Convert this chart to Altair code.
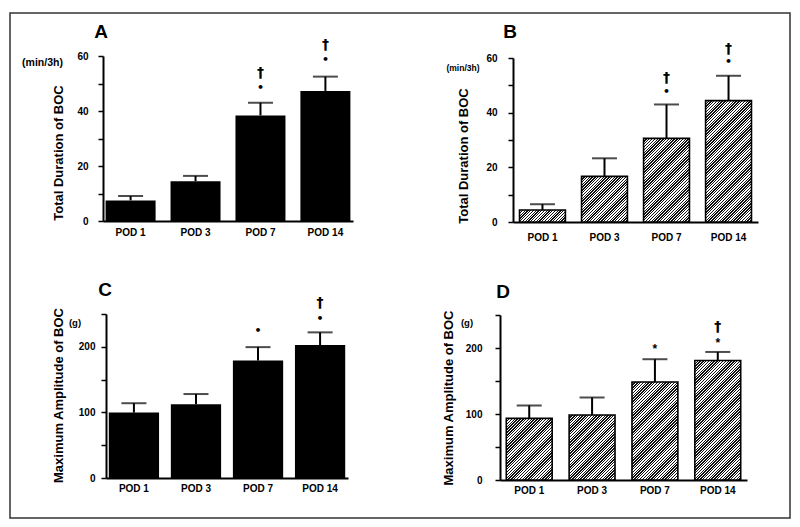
import altair as alt
import pandas as pd

pods = ["POD 1", "POD 3", "POD 7", "POD 14"]

# Panel A: Total Duration of BOC (min/3h), solid bars
a_mean = [7.5, 14.5, 38.4, 47.3]
a_se = [1.6, 1.9, 4.6, 5.2]
a_ann_pod = ["POD 7", "POD 7", "POD 14", "POD 14"]
a_ann_sym = ["†", "•", "†", "•"]
a_ann_y = [53.8, 48.4, 64.0, 58.5]

# Panel B: Total Duration of BOC (min/3h), hatched bars
b_mean = [4.4, 16.7, 30.6, 44.4]
b_se = [2.1, 6.6, 12.4, 9.1]
b_ann_pod = ["POD 7", "POD 7", "POD 14", "POD 14"]
b_ann_sym = ["†", "•", "†", "•"]
b_ann_y = [52.7, 47.6, 63.3, 58.5]

# Panel C: Maximum Amplitude of BOC (g), solid bars
c_mean = [99.7, 112.5, 179.0, 202.6]
c_se = [14.3, 15.5, 20.5, 19.4]
c_ann_pod = ["POD 7", "POD 14", "POD 14"]
c_ann_sym = ["•", "†", "•"]
c_ann_y = [224.0, 267.0, 243.0]

# Panel D: Maximum Amplitude of BOC (g), hatched bars
d_mean = [93.4, 98.5, 148.5, 181.0]
d_se = [19.6, 26.5, 34.5, 13.0]
d_ann_pod = ["POD 7", "POD 14", "POD 14"]
d_ann_sym = ["*", "†", "*"]
d_ann_y = [203.0, 232.0, 212.0]

FONT = "Liberation Sans"
SYMFONT = "DejaVu Sans"
W_TOTAL, H_TOTAL = 784, 511
one = pd.DataFrame({"k": [0]})


def hatch(w, h, period=2.8, frac=0.5):
    s = w + h
    n = max(1, round(s / period))
    k = s / (w * w + h * h)
    stops = []
    for i in range(n):
        a, b, c = i / n, (i + frac) / n, (i + 1) / n
        stops += [
            alt.GradientStop(offset=a, color="#111"),
            alt.GradientStop(offset=b, color="#111"),
            alt.GradientStop(offset=b, color="#fff"),
            alt.GradientStop(offset=c, color="#fff"),
        ]
    return alt.LinearGradient(gradient="linear", stops=stops, x1=0, y1=0, x2=w * k, y2=h * k)


def panel(mean, se, ann_pod, ann_sym, ann_y, xr, pin, pout, yr, ymax, yvals, lab_every,
          title, title_x, title_y, lab_pad, xlab_pad, hatched):
    df = pd.DataFrame({"pod": pods, "mean": mean, "top": [m + s for m, s in zip(mean, se)]})
    ann = pd.DataFrame({"pod": ann_pod, "sym": ann_sym, "val": ann_y})

    xaxis = alt.Axis(orient="bottom", offset=yr[0] - H_TOTAL, title=None, ticks=False,
                     domainColor="black", domainWidth=2, labelAngle=0, labelFont=FONT,
                     labelFontWeight="bold", labelFontSize=10, labelColor="black",
                     labelPadding=xlab_pad, grid=False)
    x = alt.X("pod:N", sort=pods,
              scale=alt.Scale(domain=pods, range=xr, paddingInner=pin, paddingOuter=pout),
              axis=xaxis)
    yaxis = alt.Axis(orient="left", offset=-xr[0], values=yvals,
                     labelExpr=f"datum.value % {lab_every} == 0 ? datum.label : ''",
                     title=title, titleX=title_x, titleY=title_y, titleAngle=270,
                     titleAlign="center", titleBaseline="middle", titleFont=FONT,
                     titleFontWeight="bold", titleFontSize=13, titleColor="black",
                     domainColor="black", domainWidth=2, tickColor="black", tickWidth=1.5,
                     tickSize=5, labelFont=FONT, labelFontWeight="bold", labelFontSize=10,
                     labelColor="black", labelPadding=lab_pad, grid=False)
    yscale = alt.Scale(domain=[0, ymax], range=yr, nice=False, zero=True)

    def Y(field):
        return alt.Y(field, scale=yscale, axis=yaxis)

    base = alt.Chart(df)
    layers = []
    if hatched:
        L = xr[1] - xr[0]
        step = L / (len(pods) - pin + 2 * pout)
        bw = step * (1 - pin)
        ppu = (yr[0] - yr[1]) / ymax
        for i, p in enumerate(pods):
            layers.append(
                base.transform_filter(alt.datum.pod == p)
                .mark_bar(fill=hatch(bw, mean[i] * ppu), stroke="black", strokeWidth=1.6)
                .encode(x=x, y=Y("mean:Q"))
            )
    else:
        layers.append(base.mark_bar(color="black").encode(x=x, y=Y("mean:Q")))
    layers.append(base.mark_rule(color="black", strokeWidth=2).encode(x=x, y=Y("mean:Q"), y2="top:Q"))
    layers.append(base.mark_tick(color="black", thickness=2, size=25, orient="horizontal")
                  .encode(x=x, y=Y("top:Q")))
    at = alt.Chart(ann)
    layers.append(at.transform_filter(alt.datum.sym == "†")
                  .mark_text(font=SYMFONT, fontWeight="bold", fontSize=14, baseline="middle", color="black")
                  .encode(x=x, y=Y("val:Q"), text="sym:N"))
    layers.append(at.transform_filter(alt.datum.sym == "•")
                  .mark_text(font=SYMFONT, fontWeight="bold", fontSize=11, baseline="middle", color="black")
                  .encode(x=x, y=Y("val:Q"), text="sym:N"))
    layers.append(at.transform_filter(alt.datum.sym == "*")
                  .mark_text(font=FONT, fontWeight="bold", fontSize=12, baseline="middle", dy=3, color="black")
                  .encode(x=x, y=Y("val:Q"), text="sym:N"))
    return alt.layer(*layers)


pA = panel(a_mean, a_se, a_ann_pod, a_ann_sym, a_ann_y, [95, 345], 0.23, 0.04, [213, 48], 60,
           list(range(0, 61, 10)), 20, "Total Duration of BOC", -45, 144.5, 10, 6, False)
pB = panel(b_mean, b_se, b_ann_pod, b_ann_sym, b_ann_y, [505, 750], 0.26, 0.105, [214, 50], 60,
           list(range(0, 61, 10)), 20, "Total Duration of BOC", -50, 147.5, 11, 10, True)
pC = panel(c_mean, c_se, c_ann_pod, c_ann_sym, c_ann_y, [98, 340], 0.19, 0.045, [470, 306], 250,
           list(range(0, 251, 50)), 100, "Maximum Amplitude of BOC", -48, 387, 6, 5, False)
pD = panel(d_mean, d_se, d_ann_pod, d_ann_sym, d_ann_y, [492, 739], 0.27, 0.1, [472, 307], 250,
           list(range(0, 251, 50)), 100, "Maximum Amplitude of BOC", -52, 389.5, 13, 5, True)


def label(text, x, y, size, align="center"):
    return alt.Chart(one).mark_text(text=text, font=FONT, fontWeight="bold", fontSize=size,
                                    align=align, baseline="middle", color="black").encode(
        x=alt.value(x), y=alt.value(y))


border = alt.Chart(one).mark_rect(fillOpacity=0, stroke="#333", strokeWidth=1.5).encode(
    x=alt.value(2), x2=alt.value(782), y=alt.value(5), y2=alt.value(510))

chart = alt.layer(
    border, pA, pB, pC, pD,
    label("A", 93, 24, 19), label("B", 502, 24, 19),
    label("C", 97, 282, 19), label("D", 495, 284, 19),
    label("(min/3h)", 34.5, 55, 10.5), label("(min/3h)", 455, 60, 8.5),
    label("(g)", 67, 315, 9.5), label("(g)", 459, 315, 9.5),
).resolve_scale(x="independent", y="independent").properties(
    width=W_TOTAL, height=H_TOTAL, autosize=alt.AutoSizeParams(type="none"), padding=0
).configure_view(stroke=None)

chart.save("out.html", embed_options={"renderer": "svg", "actions": False})
